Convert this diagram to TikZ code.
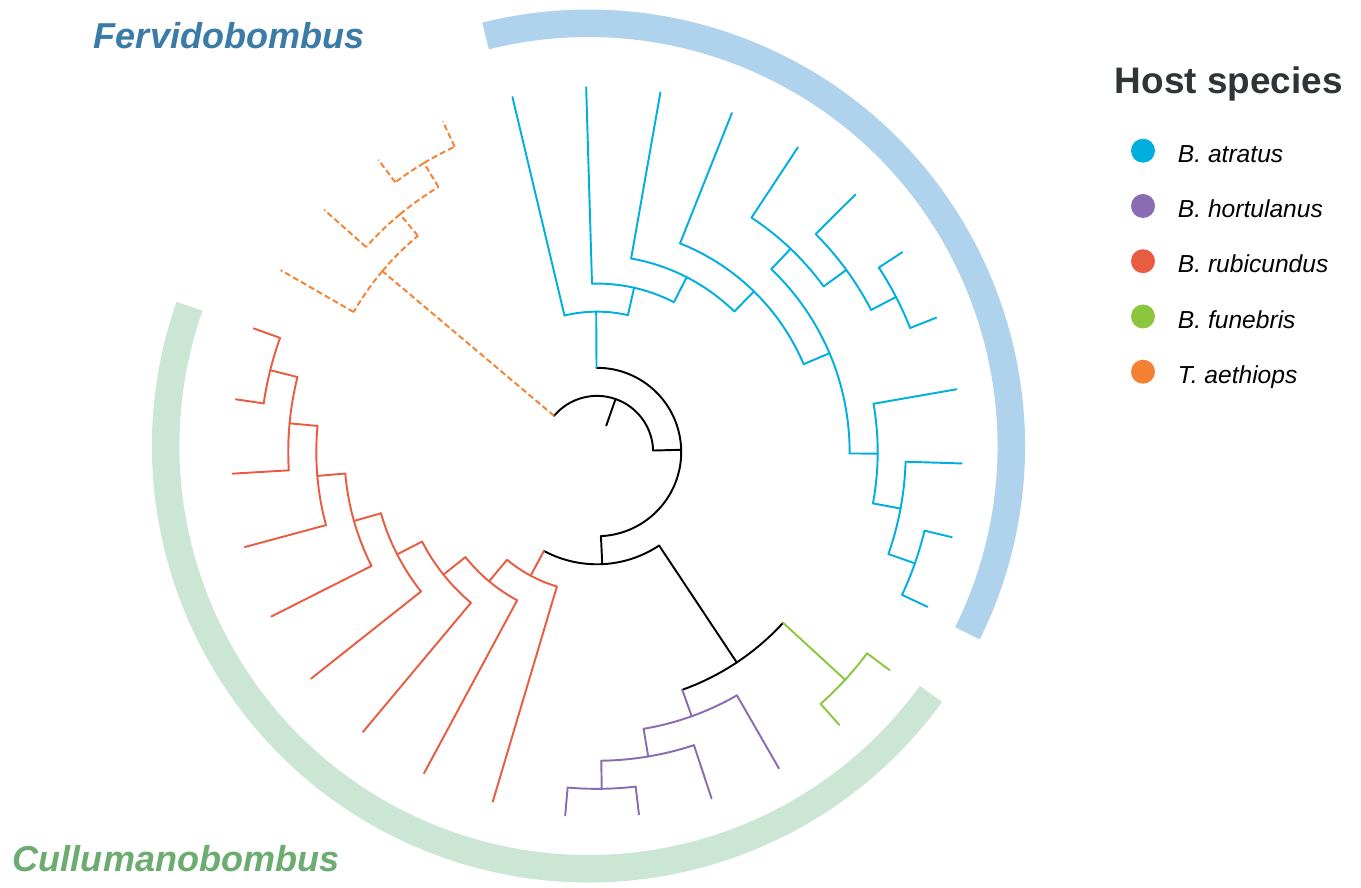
\documentclass[tikz,border=0pt]{standalone}
\usepackage{fontspec}
\setmainfont{Liberation Sans}
\usepackage{tikz}
\usetikzlibrary{positioning}
\definecolor{atrcol}{RGB}{0,175,222}
\definecolor{horcol}{RGB}{137,108,178}
\definecolor{rubcol}{RGB}{232,92,66}
\definecolor{funcol}{RGB}{140,198,63}
\definecolor{aetcol}{RGB}{245,130,50}
\definecolor{fervtext}{RGB}{58,123,168}
\definecolor{cullutext}{RGB}{108,172,112}
\definecolor{fervband}{RGB}{175,211,236}
\definecolor{culluband}{RGB}{203,230,212}
\definecolor{titletext}{RGB}{47,53,55}
\newcommand{\dlev}{28.07} % radius of one level of the cladogram
% arc at the parent's level, then the radial part in the child's style
\newcommand{\branch}[6]{\draw (#2) arc[start angle=#3, end angle=#6, radius=#4*\dlev] edge[#1] (#5);}
\tikzset{
	atratus/.style={draw=atrcol}, % edges coloured by host species
	hortulanus/.style={draw=horcol},
	rubicundus/.style={draw=rubcol},
	funebris/.style={draw=funcol},
	aethiops/.style={draw=aetcol, line cap=butt, dash pattern=on 3.4pt off 1.8pt},
	cladeband/.style={line width=0.55cm, line cap=butt},
	cladelabel/.style={font=\fontsize{20.5pt}{24pt}\selectfont\bfseries\itshape, anchor=base west, inner sep=0},
	keydot/.style={circle, minimum size=0.48cm, inner sep=0},
	keytext/.style={font=\fontsize{14pt}{16pt}\selectfont\itshape, anchor=base west, inner sep=0},
}
\begin{document}
\begin{tikzpicture}[x=0.02cm, y=0.02cm, line width=1.1pt, line cap=round]
	\useasboundingbox (-597,-435) rectangle (764,452);
	% clade bands
	\begin{scope}[shift={(-8.5,6)}]
		\draw[cladeband, fervband] (-26.3:422.75) arc[start angle=-26.3, end angle=104.1, radius=422.75];
		\draw[cladeband, culluband] (160.7:422.75) arc[start angle=160.7, end angle=324.1, radius=422.75];
	\end{scope}
	\node[cladelabel, text=fervtext] (ferv) at (-504,403.5) {Fervidobombus};
	\node[cladelabel, text=cullutext] (cullu) at (-585,-419) {Cullumanobombus};
	
	% tips
	\foreach \n/\a in {1/103.4, 2/91.7, 3/80.0, 4/68.3, 5/56.6, 6/44.9, 7/33.2, 8/21.6, 9/9.9, 10/-1.8, 11/-13.5, 12/-25.1}
		\coordinate (atr\n) at (\a:13*\dlev);
	\foreach \n/\a in {1/-36.7, 2/-48.4}
		\coordinate (fun\n) at (\a:13*\dlev);
	\foreach \n/\a in {1/-60.1, 2/-71.7, 3/-83.4, 4/-95.0}
		\coordinate (hor\n) at (\a:13*\dlev);
	\foreach \n/\a in {1/-106.6, 2/-118.3, 3/-129.9, 4/-141.6, 5/-153.2, 6/-164.9, 7/-176.6, 8/-188.3, 9/-199.8}
		\coordinate (rub\n) at (\a:13*\dlev);
	\foreach \n/\a in {1/150.1, 2/138.4, 3/126.8, 4/115.0}
		\coordinate (aet\n) at (\a:13*\dlev);
	
	% inner nodes
	\coordinate (stub) at (70.69:\dlev);
	\coordinate (root) at (70.69:2*\dlev);
	\coordinate (n1) at (1.51:3*\dlev);
	\coordinate (n2) at (-87.315:4*\dlev);
	\coordinate (n3) at (-56.41:9*\dlev);
	\coordinate (atrA) at (90.33:5*\dlev);
	\coordinate (atrB) at (77.27:6*\dlev);
	\coordinate (atrC) at (62.83:7*\dlev);
	\coordinate (atrD) at (45.66:8*\dlev);
	\coordinate (atrE) at (23.03:9*\dlev);
	\coordinate (atrF) at (46.38:10*\dlev);
	\coordinate (atrG) at (36.15:11*\dlev);
	\coordinate (atrH) at (27.4:12*\dlev);
	\coordinate (atrI) at (-0.33:10*\dlev);
	\coordinate (atrJ) at (-10.55:11*\dlev);
	\coordinate (atrK) at (-19.3:12*\dlev);
	\coordinate (funA) at (-42.55:12*\dlev);
	\coordinate (horA) at (-70.28:10*\dlev);
	\coordinate (horB) at (-80.45:11*\dlev);
	\coordinate (horC) at (-89.2:12*\dlev);
	\coordinate (rubA) at (-118.22:5*\dlev);
	\coordinate (rubB) at (-129.85:6*\dlev);
	\coordinate (rubC) at (-141.39:7*\dlev);
	\coordinate (rubD) at (-152.88:8*\dlev);
	\coordinate (rubE) at (-164.16:9*\dlev);
	\coordinate (rubF) at (-175.11:10*\dlev);
	\coordinate (rubG) at (-185.33:11*\dlev);
	\coordinate (rubH) at (-194.05:12*\dlev);
	\coordinate (aetA) at (139.88:10*\dlev);
	\coordinate (aetB) at (129.65:11*\dlev);
	\coordinate (aetC) at (120.9:12*\dlev);
	
	% backbone
	\draw (stub) -- (root);
	\branch{}{root}{70.69}{2}{n1}{1.51}
	\branch{aethiops}{root}{70.69}{2}{aetA}{139.88}
	\branch{atratus}{n1}{1.51}{3}{atrA}{90.33}
	\branch{}{n1}{1.51}{3}{n2}{-87.315}
	\branch{rubicundus}{n2}{-87.315}{4}{rubA}{-118.22}
	\branch{}{n2}{-87.315}{4}{n3}{-56.41}
	\branch{hortulanus}{n3}{-56.41}{9}{horA}{-70.28}
	\branch{funebris}{n3}{-56.41}{9}{funA}{-42.55}
	
	\begin{scope}[atratus]
		\branch{atratus}{atrA}{90.33}{5}{atr1}{103.4}
		\branch{atratus}{atrA}{90.33}{5}{atrB}{77.27}
		\branch{atratus}{atrB}{77.27}{6}{atr2}{91.7}
		\branch{atratus}{atrB}{77.27}{6}{atrC}{62.83}
		\branch{atratus}{atrC}{62.83}{7}{atr3}{80.0}
		\branch{atratus}{atrC}{62.83}{7}{atrD}{45.66}
		\branch{atratus}{atrD}{45.66}{8}{atr4}{68.3}
		\branch{atratus}{atrD}{45.66}{8}{atrE}{23.03}
		\branch{atratus}{atrE}{23.03}{9}{atrF}{46.38}
		\branch{atratus}{atrE}{23.03}{9}{atrI}{-0.33}
		\branch{atratus}{atrF}{46.38}{10}{atr5}{56.6}
		\branch{atratus}{atrF}{46.38}{10}{atrG}{36.15}
		\branch{atratus}{atrG}{36.15}{11}{atr6}{44.9}
		\branch{atratus}{atrG}{36.15}{11}{atrH}{27.4}
		\branch{atratus}{atrH}{27.4}{12}{atr7}{33.2}
		\branch{atratus}{atrH}{27.4}{12}{atr8}{21.6}
		\branch{atratus}{atrI}{-0.33}{10}{atr9}{9.9}
		\branch{atratus}{atrI}{-0.33}{10}{atrJ}{-10.55}
		\branch{atratus}{atrJ}{-10.55}{11}{atr10}{-1.8}
		\branch{atratus}{atrJ}{-10.55}{11}{atrK}{-19.3}
		\branch{atratus}{atrK}{-19.3}{12}{atr11}{-13.5}
		\branch{atratus}{atrK}{-19.3}{12}{atr12}{-25.1}
	\end{scope}
	
	\begin{scope}[funebris]
		\branch{funebris}{funA}{-42.55}{12}{fun1}{-36.7}
		\branch{funebris}{funA}{-42.55}{12}{fun2}{-48.4}
	\end{scope}
	
	\begin{scope}[hortulanus]
		\branch{hortulanus}{horA}{-70.28}{10}{hor1}{-60.1}
		\branch{hortulanus}{horA}{-70.28}{10}{horB}{-80.45}
		\branch{hortulanus}{horB}{-80.45}{11}{hor2}{-71.7}
		\branch{hortulanus}{horB}{-80.45}{11}{horC}{-89.2}
		\branch{hortulanus}{horC}{-89.2}{12}{hor3}{-83.4}
		\branch{hortulanus}{horC}{-89.2}{12}{hor4}{-95.0}
	\end{scope}
	
	\begin{scope}[rubicundus]
		\branch{rubicundus}{rubA}{-118.22}{5}{rub1}{-106.6}
		\branch{rubicundus}{rubA}{-118.22}{5}{rubB}{-129.85}
		\branch{rubicundus}{rubB}{-129.85}{6}{rub2}{-118.3}
		\branch{rubicundus}{rubB}{-129.85}{6}{rubC}{-141.39}
		\branch{rubicundus}{rubC}{-141.39}{7}{rub3}{-129.9}
		\branch{rubicundus}{rubC}{-141.39}{7}{rubD}{-152.88}
		\branch{rubicundus}{rubD}{-152.88}{8}{rub4}{-141.6}
		\branch{rubicundus}{rubD}{-152.88}{8}{rubE}{-164.16}
		\branch{rubicundus}{rubE}{-164.16}{9}{rub5}{-153.2}
		\branch{rubicundus}{rubE}{-164.16}{9}{rubF}{-175.11}
		\branch{rubicundus}{rubF}{-175.11}{10}{rub6}{-164.9}
		\branch{rubicundus}{rubF}{-175.11}{10}{rubG}{-185.33}
		\branch{rubicundus}{rubG}{-185.33}{11}{rub7}{-176.6}
		\branch{rubicundus}{rubG}{-185.33}{11}{rubH}{-194.05}
		\branch{rubicundus}{rubH}{-194.05}{12}{rub8}{-188.3}
		\branch{rubicundus}{rubH}{-194.05}{12}{rub9}{-199.8}
	\end{scope}
	
	\begin{scope}[aethiops]
		\branch{aethiops}{aetA}{139.88}{10}{aet1}{150.1}
		\branch{aethiops}{aetA}{139.88}{10}{aetB}{129.65}
		\branch{aethiops}{aetB}{129.65}{11}{aet2}{138.4}
		\branch{aethiops}{aetB}{129.65}{11}{aetC}{120.9}
		\branch{aethiops}{aetC}{120.9}{12}{aet3}{126.8}
		\branch{aethiops}{aetC}{120.9}{12}{aet4}{115.0}
	\end{scope}
	
	% legend
	\node[anchor=base west, inner sep=0, text=titletext, font=\fontsize{21pt}{24pt}\selectfont\bfseries] (legend) at (517,358.7) {Host species};
	\foreach \n/\col/\txt in {1/atrcol/B. atratus, 2/horcol/B. hortulanus, 3/rubcol/B. rubicundus, 4/funcol/B. funebris, 5/aetcol/T. aethiops}{
		\node[keydot, fill=\col] (key\n) at (546,{301.3-55.25*(\n-1)}) {};
		\node[keytext] (lab\n) at (580,{289.6-55.25*(\n-1)}) {\txt};
	}
\end{tikzpicture}
\end{document}
